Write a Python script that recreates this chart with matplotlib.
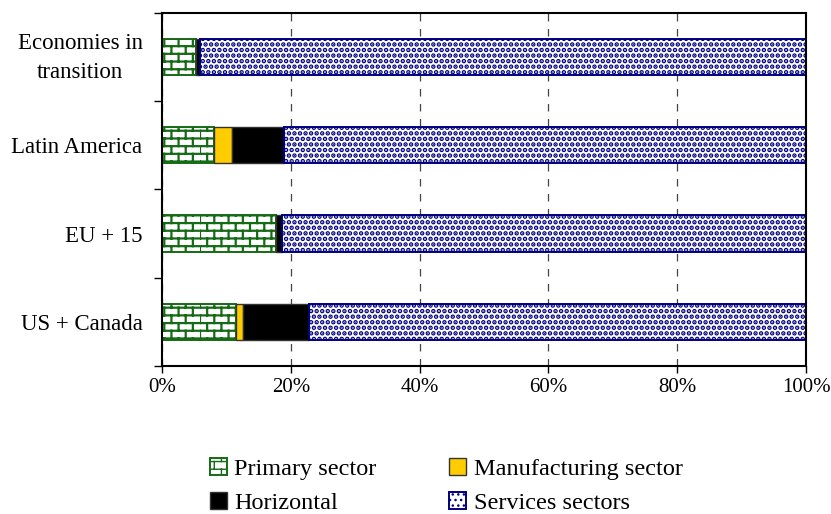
import warnings
import matplotlib.pyplot as plt
import matplotlib.hatch as mhatch
import matplotlib.transforms as mtransforms
from matplotlib.path import Path
import numpy as np

warnings.filterwarnings('ignore')
plt.rcParams['font.family'] = ['Liberation Serif', 'DejaVu Serif']

regions = ['Economies in\ntransition', 'Latin America', 'EU + 15', 'US + Canada']
primary = [5.2, 8.1, 17.7, 11.5]
manufacturing = [0.0, 2.8, 0.0, 1.1]
horizontal = [0.7, 8.0, 0.9, 10.2]
services = [100 - p - m - h for p, m, h in zip(primary, manufacturing, horizontal)]
xticks = [0, 20, 40, 60, 80, 100]


class BrickHatch(mhatch.HatchPatternBase):
    # brick wall pattern, used for hatch 'b'
    def __init__(self, hatch, density):
        self.rows = hatch.count('b') * 13
        self.bricks = hatch.count('b') * 7
        self.num_vertices = self.rows * 2 + self.rows * self.bricks * 2

    def set_vertices_and_codes(self, vertices, codes):
        if self.rows == 0:
            return
        dy = 1.0 / self.rows
        dx = 1.0 / self.bricks
        i = 0
        for r in range(self.rows):
            y0 = r * dy
            vertices[i] = (0.0, y0)
            vertices[i + 1] = (1.0, y0)
            codes[i] = Path.MOVETO
            codes[i + 1] = Path.LINETO
            i += 2
            shift = dx / 2 if r % 2 else 0.0
            for b in range(self.bricks):
                x0 = b * dx + shift
                vertices[i] = (x0, y0)
                vertices[i + 1] = (x0, y0 + dy)
                codes[i] = Path.MOVETO
                codes[i + 1] = Path.LINETO
                i += 2


mhatch._hatch_types.append(BrickHatch)

fig = plt.figure(figsize=(8.31, 5.14), dpi=100)
ax = fig.add_axes([0.195, 0.288, 0.775, 0.687])

y = np.arange(len(regions))
h = 0.41
left = np.zeros(len(regions))


def hatch_width(bars, lw):
    for p in bars:
        if hasattr(p, 'set_hatch_linewidth'):
            p.set_hatch_linewidth(lw)


with plt.rc_context({'hatch.linewidth': 1.6}):
    b1 = ax.barh(y, primary, h, left=left, color='white', edgecolor='#156b15',
                 hatch='b', linewidth=1.4, label='Primary sector')
    hatch_width(b1, 1.6)
left += primary
b2 = ax.barh(y, manufacturing, h, left=left, color='#ffcc00', edgecolor='#333333',
             linewidth=1.0, label='Manufacturing sector')
left += manufacturing
b3 = ax.barh(y, horizontal, h, left=left, color='black', edgecolor='#333333',
             linewidth=1.0, label='Horizontal')
left += horizontal
with plt.rc_context({'hatch.linewidth': 2.3}):
    b4 = ax.barh(y, services, h, left=left, color='white', edgecolor='#000080',
                 hatch='...', linewidth=1.4, label='Services sectors')
    hatch_width(b4, 2.3)

ax.set_xlim(0, 100)
ax.set_ylim(len(regions) - 0.5, -0.5)
ax.set_xticks(xticks)
ax.set_xticklabels([f'{v}%' for v in xticks], fontsize=15)
ax.tick_params(axis='x', direction='out', length=5, width=1, pad=4)

ax.set_yticks(np.arange(len(regions) + 1) - 0.5)
ax.set_yticklabels([])
ax.set_yticks(y, minor=True)
ylabels = ax.set_yticklabels(regions, minor=True, fontsize=16.5,
                             multialignment='center', linespacing=1.45)
ax.tick_params(axis='y', which='major', direction='out', length=6, width=1)
ax.tick_params(axis='y', which='minor', length=0, pad=14)
# the two-line label sits a little higher in the original
lift = mtransforms.ScaledTranslation(0, 0.05, fig.dpi_scale_trans)
ylabels[0].set_transform(ylabels[0].get_transform() + lift)

ax.grid(axis='x', color='#444444', linestyle=(0, (6, 6)), linewidth=0.9)
ax.set_axisbelow(True)
for s in ax.spines.values():
    s.set_linewidth(1.5)

handles = [b1, b3, b2, b4]
fig.legend(handles, [hh.get_label() for hh in handles], ncol=2, frameon=False,
           loc='lower center', bbox_to_anchor=(0.537, -0.043), fontsize=17.5,
           handlelength=0.7, handleheight=0.7, handletextpad=0.3,
           columnspacing=3.0, labelspacing=0.5)

fig.savefig('out.png', dpi=100)
